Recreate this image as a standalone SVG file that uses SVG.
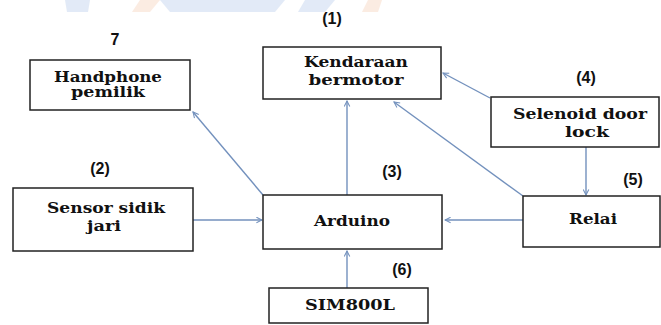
<svg xmlns="http://www.w3.org/2000/svg" width="661" height="325" viewBox="0 0 661 325">
<style>
.box{fill:#fff;stroke:#222;stroke-width:1.5}
.lbl{font-family:"DejaVu Serif","Liberation Serif",serif;font-weight:bold;font-size:14px;fill:#111;text-anchor:middle}
.num{font-family:"Liberation Sans",Arial,sans-serif;font-weight:bold;font-size:16px;fill:#111;text-anchor:middle}
.con{stroke:#7391bd;stroke-width:1.4;fill:none;marker-end:url(#ah)}
</style>
<defs>
<marker id="ah" viewBox="0 0 10 10" refX="9" refY="5" markerWidth="7" markerHeight="7" orient="auto" markerUnits="userSpaceOnUse">
<path d="M1,1 L9,5 L1,9" fill="none" stroke="#7391bd" stroke-width="1.5"/>
</marker>
</defs>
<rect width="661" height="325" fill="#fff"/>
<g id="watermark" opacity="0.25">
<polygon points="65,0 90,0 88,12 67,12" fill="#8fb0e0"/>
<polygon points="140,0 160,0 150,12 132,12" fill="#f3b58f"/>
<polygon points="160,0 285,0 275,12 170,12" fill="#8fb0e0"/>
<polygon points="305,0 335,0 325,12 298,12" fill="#8fb0e0"/>
<polygon points="368,0 382,0 378,12 362,12" fill="#f3b58f"/>
</g>
<g id="connectors">
<line class="con" x1="263" y1="195" x2="193" y2="112"/>
<line class="con" x1="347" y1="195" x2="347" y2="101"/>
<line class="con" x1="490" y1="98" x2="443" y2="73"/>
<line class="con" x1="523" y1="196" x2="394" y2="102"/>
<line class="con" x1="586" y1="147" x2="586" y2="195"/>
<line class="con" x1="523" y1="220" x2="445" y2="220"/>
<line class="con" x1="193" y1="220" x2="262" y2="220"/>
<line class="con" x1="347" y1="288" x2="347" y2="251"/>
</g>
<g id="n7">
<text class="num" x="115" y="45">7</text>
<rect class="box" x="30" y="60" width="160" height="50"/>
<text class="lbl" x="108" y="82" textLength="108" lengthAdjust="spacingAndGlyphs">Handphone</text>
<text class="lbl" x="108" y="97" textLength="74" lengthAdjust="spacingAndGlyphs">pemilik</text>
</g>
<g id="n1">
<text class="num" x="332" y="24">(1)</text>
<rect class="box" x="263" y="47" width="178" height="52"/>
<text class="lbl" x="356" y="67" textLength="104" lengthAdjust="spacingAndGlyphs">Kendaraan</text>
<text class="lbl" x="356" y="85" textLength="95" lengthAdjust="spacingAndGlyphs">bermotor</text>
</g>
<g id="n4">
<text class="num" x="586" y="83">(4)</text>
<rect class="box" x="491" y="97" width="168" height="50"/>
<text class="lbl" x="580" y="119" textLength="134" lengthAdjust="spacingAndGlyphs">Selenoid door</text>
<text class="lbl" x="587" y="137" textLength="44" lengthAdjust="spacingAndGlyphs">lock</text>
</g>
<g id="n2">
<text class="num" x="100" y="174">(2)</text>
<rect class="box" x="13" y="188" width="180" height="63"/>
<text class="lbl" x="106" y="213" textLength="118" lengthAdjust="spacingAndGlyphs">Sensor sidik</text>
<text class="lbl" x="104" y="231" textLength="34" lengthAdjust="spacingAndGlyphs">jari</text>
</g>
<g id="n3">
<text class="num" x="392" y="177">(3)</text>
<rect class="box" x="263" y="195" width="179" height="54"/>
<text class="lbl" x="352" y="226" textLength="76" lengthAdjust="spacingAndGlyphs">Arduino</text>
</g>
<g id="n5">
<text class="num" x="633" y="185">(5)</text>
<rect class="box" x="523" y="196" width="137" height="51"/>
<text class="lbl" x="593" y="224" textLength="48" lengthAdjust="spacingAndGlyphs">Relai</text>
</g>
<g id="n6">
<text class="num" x="402" y="275">(6)</text>
<rect class="box" x="269" y="288" width="159" height="35"/>
<text class="lbl" x="350" y="310" textLength="90" lengthAdjust="spacingAndGlyphs">SIM800L</text>
</g>
</svg>
